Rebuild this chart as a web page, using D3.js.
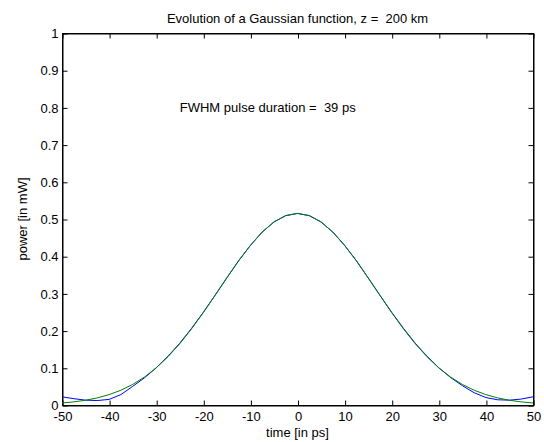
<!DOCTYPE html>
<html>
<head>
<meta charset="utf-8">
<script src="https://cdn.jsdelivr.net/npm/d3@7"></script>
<style>
  body { margin: 0; background: #fff; }
  svg { font-family: "Liberation Sans", Arial, sans-serif; }
  text { white-space: pre; }
</style>
</head>
<body>
<div id="chart"></div>
<script>
// time axis samples [ps]
const times = [-50, -47.5, -45, -42.5, -40, -37.5, -35, -32.5, -30, -27.5, -25, -22.5, -20, -17.5, -15, -12.5, -10, -7.5, -5, -2.5,
  0, 2.5, 5, 7.5, 10, 12.5, 15, 17.5, 20, 22.5, 25, 27.5, 30, 32.5, 35, 37.5, 40, 42.5, 45, 47.5, 50];

// green: fitted gaussian [mW]
const fitPower = [0.0054, 0.0084, 0.0128, 0.0191, 0.0279, 0.0397, 0.0552, 0.0751, 0.0998, 0.1298, 0.1648, 0.2047, 0.2484, 0.2947, 0.3417, 0.3874, 0.4292, 0.4648, 0.4921, 0.5092,
  0.515, 0.5092, 0.4921, 0.4648, 0.4292, 0.3874, 0.3417, 0.2947, 0.2484, 0.2047, 0.1648, 0.1298, 0.0998, 0.0751, 0.0552, 0.0397, 0.0279, 0.0191, 0.0128, 0.0084, 0.0054];

// blue: evolved pulse [mW]
const pulsePower = [0.022, 0.017, 0.013, 0.012, 0.015, 0.028, 0.050, 0.073, 0.100, 0.131, 0.166, 0.206, 0.249, 0.295, 0.342, 0.388, 0.429, 0.465, 0.492, 0.509,
  0.515, 0.509, 0.492, 0.465, 0.429, 0.388, 0.342, 0.295, 0.249, 0.206, 0.166, 0.131, 0.100, 0.074, 0.052, 0.033, 0.020, 0.014, 0.013, 0.016, 0.022];

const xTicks = [-50, -40, -30, -20, -10, 0, 10, 20, 30, 40, 50];
const xTickLabels = ["-50", "-40", "-30", "-20", "-10", "0", "10", "20", "30", "40", "50"];
const yTicks = [0, 0.1, 0.2, 0.3, 0.4, 0.5, 0.6, 0.7, 0.8, 0.9, 1];
const yTickLabels = ["0", "0.1", "0.2", "0.3", "0.4", "0.5", "0.6", "0.7", "0.8", "0.9", "1"];

const width = 544, height = 442;
const plotLeft = 62, plotRight = 533, plotTop = 33, plotBottom = 405;

const svg = d3.select('#chart').append('svg')
  .attr('width', width)
  .attr('height', height);

const x = d3.scaleLinear().domain([-50, 50]).range([plotLeft, plotRight]);
const y = d3.scaleLinear().domain([0, 1]).range([plotBottom, plotTop]);

// box
svg.append('rect')
  .attr('x', plotLeft + 0.5).attr('y', plotTop + 0.5)
  .attr('width', plotRight - plotLeft).attr('height', plotBottom - plotTop)
  .attr('fill', '#fff').attr('stroke', '#000');

const fontSize = 13;

// bottom axis with inward ticks
const gx = svg.append('g')
  .attr('transform', `translate(0.5, ${plotBottom + 0.5})`)
  .call(d3.axisBottom(x).tickValues(xTicks).tickSize(-5).tickPadding(6).tickSizeOuter(0)
    .tickFormat((d, i) => xTickLabels[i]));
gx.selectAll('text').attr('font-size', fontSize).attr('fill', '#000');

svg.append('g')
  .attr('transform', `translate(0.5, ${plotTop + 0.5})`)
  .call(d3.axisTop(x).tickValues(xTicks).tickSize(-5).tickFormat('').tickSizeOuter(0));

const gy = svg.append('g')
  .attr('transform', `translate(${plotLeft + 0.5}, 0.5)`)
  .call(d3.axisLeft(y).tickValues(yTicks).tickSize(-5).tickPadding(4).tickSizeOuter(0)
    .tickFormat((d, i) => yTickLabels[i]));
gy.selectAll('text').attr('font-size', fontSize).attr('fill', '#000');

svg.append('g')
  .attr('transform', `translate(${plotRight + 0.5}, 0.5)`)
  .call(d3.axisRight(y).tickValues(yTicks).tickSize(-5).tickFormat('').tickSizeOuter(0));

svg.selectAll('.domain').attr('stroke', '#000');
svg.selectAll('.tick line').attr('stroke', '#000');

// curves
const line = d3.line()
  .x((d, i) => x(times[i]))
  .y(d => y(d));

svg.append('path')
  .datum(pulsePower)
  .attr('d', line)
  .attr('fill', 'none')
  .attr('stroke', '#0000ff')
  .attr('stroke-width', 1);

svg.append('path')
  .datum(fitPower)
  .attr('d', line)
  .attr('fill', 'none')
  .attr('stroke', '#008000')
  .attr('stroke-width', 1);

// labels
svg.append('text')
  .attr('x', (plotLeft + plotRight) / 2).attr('y', 23)
  .attr('text-anchor', 'middle').attr('font-size', fontSize)
  .text('Evolution of a Gaussian function, z =  200 km');

svg.append('text')
  .attr('x', (plotLeft + plotRight) / 2).attr('y', 437)
  .attr('text-anchor', 'middle').attr('font-size', fontSize)
  .text('time [in ps]');

svg.append('text')
  .attr('transform', `translate(27, ${(plotTop + plotBottom) / 2}) rotate(-90)`)
  .attr('text-anchor', 'middle').attr('font-size', fontSize)
  .text('power [in mW]');

svg.append('text')
  .attr('x', x(-25)).attr('y', y(0.8))
  .attr('dy', '0.35em').attr('font-size', fontSize)
  .text('FWHM pulse duration =  39 ps');
</script>
</body>
</html>
